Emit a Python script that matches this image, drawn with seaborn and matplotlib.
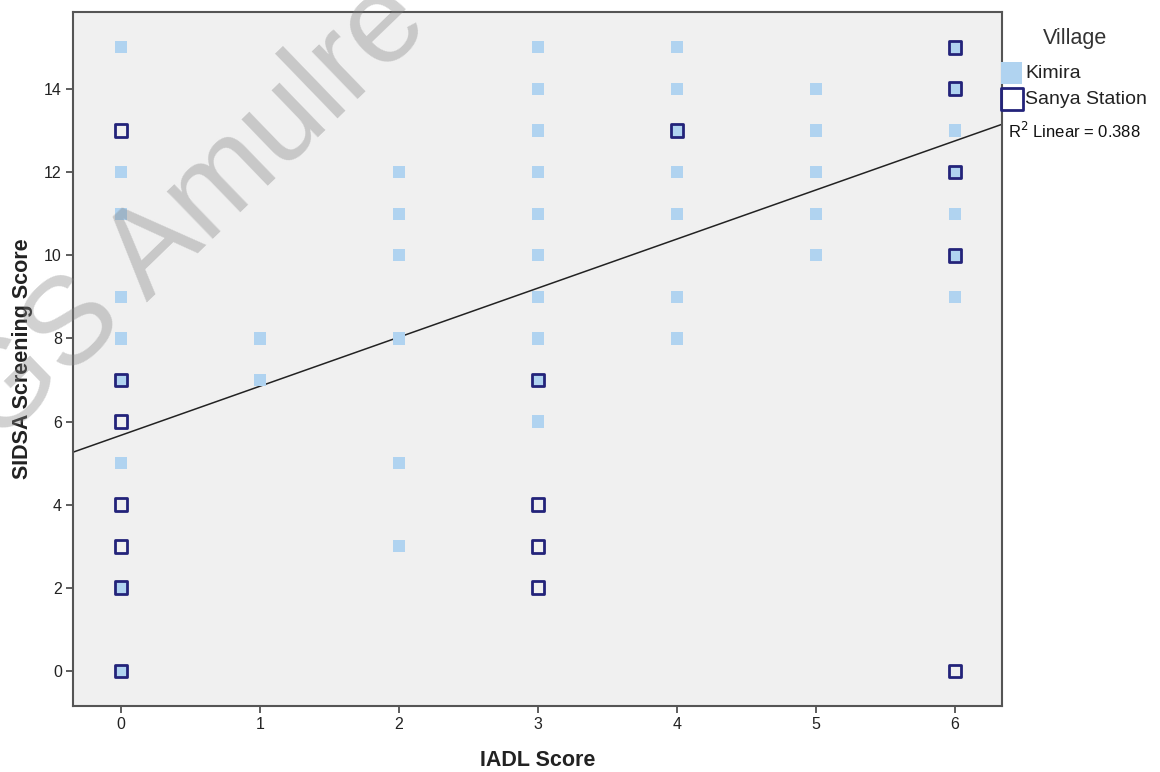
import numpy as np
import pandas as pd
import matplotlib
matplotlib.use("Agg")
import matplotlib.pyplot as plt
import seaborn as sns

# IADL vs SIDSA scores
kimira_iadl = [0] * 9 + [1] * 2 + [2] * 6 + [3] * 10 + [4] * 7 + [5] * 5 + [6] * 7
kimira_sidsa = [15, 12, 11, 9, 8, 7, 5, 2, 0,
                8, 7,
                12, 11, 10, 8, 5, 3,
                15, 14, 13, 12, 11, 10, 9, 8, 7, 6,
                15, 14, 13, 12, 11, 9, 8,
                14, 13, 12, 11, 10,
                15, 14, 13, 12, 11, 10, 9]

sanya_iadl = [0] * 7 + [3] * 4 + [4] + [6] * 5
sanya_sidsa = [13, 7, 6, 4, 3, 2, 0,
               7, 4, 3, 2,
               13,
               15, 14, 12, 10, 0]

# linear fit shown on the chart
fit_intercept = 5.67
fit_slope = 1.18
r2_label = "R$^2$ Linear = 0.388"

x_ticks = [0, 1, 2, 3, 4, 5, 6]
y_ticks = [0, 2, 4, 6, 8, 10, 12, 14]

kimira = pd.DataFrame({"IADL": kimira_iadl, "SIDSA": kimira_sidsa})
sanya = pd.DataFrame({"IADL": sanya_iadl, "SIDSA": sanya_sidsa})

sns.set_style("white")
plt.rcParams["font.family"] = ["Liberation Sans", "DejaVu Sans"]

fig = plt.figure(figsize=(11.6, 7.72), dpi=100)
ax = fig.add_axes([0.0629, 0.0855, 0.8009, 0.899])
ax.set_facecolor("#f0f0f0")

xlim = (-0.345, 6.338)
ylim = (-0.84, 15.85)

sns.scatterplot(data=kimira, x="IADL", y="SIDSA", ax=ax, marker="s", s=78,
                color="#b0d3f0", edgecolor="none", label="Kimira", zorder=3)
sns.scatterplot(data=sanya, x="IADL", y="SIDSA", ax=ax, marker="s", s=85,
                facecolor="none", edgecolor="#23237a", linewidth=2.0,
                label="Sanya Station", zorder=4)

line = pd.DataFrame({"x": list(xlim)})
line["y"] = fit_intercept + fit_slope * line["x"]
sns.lineplot(data=line, x="x", y="y", ax=ax, color="#222222", linewidth=1.1, zorder=2)

ax.set_xlim(xlim)
ax.set_ylim(ylim)
ax.set_xticks(x_ticks)
ax.set_yticks(y_ticks)
ax.tick_params(axis="both", direction="out", length=5, width=1.1, color="#333333",
               labelsize=11.5, labelcolor="#222222", pad=3,
               bottom=True, left=True)
for sp in ax.spines.values():
    sp.set_color("#555555")
    sp.set_linewidth(1.5)

ax.set_xlabel("IADL Score", fontsize=15.5, fontweight="bold", color="#222222", labelpad=13)
ax.set_ylabel("SIDSA Screening Score", fontsize=15.5, fontweight="bold", color="#222222", labelpad=8)

leg = ax.legend(loc="upper left", bbox_to_anchor=(1002 / 1160, 1 - 28 / 772),
                bbox_transform=fig.transFigure, frameon=False, title="Village",
                fontsize=14, title_fontsize=15.5, markerscale=1.75,
                handlelength=1.0, handletextpad=0.2, labelspacing=0.45,
                borderaxespad=0, borderpad=0)
leg._legend_box.sep = 11
leg.get_title().set_color("#333333")
for t in leg.get_texts():
    t.set_color("#222222")

fig.text(1008 / 1160, 1 - 131 / 772, r2_label, fontsize=12, color="#111111",
         ha="left", va="center")

# watermark
fig.text(192 / 1160, 1 - 214 / 772, "GS Amulre", fontsize=90, color="#808080",
         alpha=0.36, rotation=44, rotation_mode="anchor", ha="center", va="center",
         zorder=10)

fig.savefig("out.png", dpi=100)
